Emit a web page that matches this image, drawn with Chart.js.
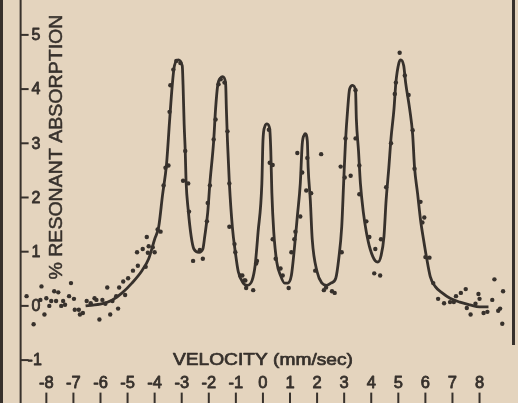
<!DOCTYPE html>
<html>
<head>
<meta charset="utf-8">
<script src="https://cdn.jsdelivr.net/npm/chart.js@4"></script>
<style>
html,body{margin:0;padding:0;background:#e4d4be;}
#wrap{width:518px;height:403px;position:relative;}
</style>
</head>
<body>
<div id="wrap"><canvas id="c"></canvas></div>
<script>
// ---- Data ----
const velocityTicks = [-8,-7,-6,-5,-4,-3,-2,-1,0,1,2,3,4,5,6,7,8];
const absorptionTicks = [5,4,3,2,1,0,-1];
const xTitle = "VELOCITY (mm/sec)";
const yTitle = "% RESONANT ABSORPTION";

// fitted curve (velocity mm/s, % absorption)
const curveV = [-6.55,-5.93,-5.56,-5.20,-4.84,-4.47,-4.22,-4.00,-3.85,-3.71,-3.56,-3.45,-3.35,-3.27,-3.13,-2.98,-2.95,-2.91,-2.87,-2.84,-2.76,-2.65,-2.55,-2.36,-2.22,-2.15,-2.04,-1.96,-1.82,-1.75,-1.67,-1.56,-1.49,-1.38,-1.35,-1.31,-1.24,-1.13,-1.02,-0.91,-0.73,-0.58,-0.40,-0.29,-0.18,-0.04,0.00,0.07,0.15,0.25,0.29,0.33,0.40,0.51,0.65,0.80,0.91,1.05,1.16,1.27,1.38,1.45,1.53,1.56,1.64,1.67,1.75,1.82,2.00,2.18,2.36,2.51,2.69,2.80,2.91,2.98,3.05,3.13,3.20,3.31,3.42,3.45,3.53,3.60,3.71,3.82,3.96,4.15,4.25,4.36,4.47,4.55,4.65,4.73,4.84,4.91,5.02,5.09,5.20,5.27,5.42,5.53,5.60,5.71,5.82,5.93,6.04,6.18,6.36,6.62,6.91,7.27,7.64,8.00,8.33];
const curveA = [0.00,0.04,0.11,0.24,0.42,0.65,0.87,1.23,1.46,2.04,2.62,3.40,4.07,4.43,4.54,4.43,4.07,3.35,2.86,2.31,1.77,1.28,1.05,0.99,1.05,1.28,1.72,2.26,3.04,3.63,4.07,4.21,4.23,4.12,3.63,3.04,2.26,1.46,0.99,0.63,0.42,0.38,0.47,0.74,1.36,2.26,3.04,3.31,3.36,3.27,2.86,2.08,1.36,0.81,0.56,0.42,0.42,0.56,1.05,1.65,2.26,2.98,3.16,3.18,3.04,2.55,1.95,1.23,0.63,0.42,0.38,0.42,0.51,0.87,1.46,2.26,3.04,3.63,4.00,4.07,3.98,3.45,2.86,2.26,1.72,1.36,1.05,0.83,0.81,0.92,1.28,1.95,2.55,3.09,3.63,4.12,4.48,4.54,4.43,4.12,3.63,3.16,2.55,2.08,1.59,1.23,0.90,0.54,0.36,0.24,0.14,0.07,0.02,-0.02,-0.02];

// measured points
const dotV = [-8.73,-8.18,-8.22,-8.00,-8.07,-8.47,-7.82,-7.89,-7.71,-7.56,-7.64,-7.38,-7.45,-7.31,-7.09,-7.16,-6.98,-6.95,-6.80,-6.76,-6.65,-6.51,-6.36,-6.22,-6.15,-5.93,-6.04,-5.82,-5.75,-5.56,-5.64,-5.35,-5.42,-5.31,-5.09,-5.16,-4.98,-4.80,-4.62,-4.65,-4.44,-4.33,-4.25,-4.22,-4.29,-4.07,-4.00,-3.89,-3.78,
 -3.67,-3.60,-3.49,-3.45,-3.42,-3.31,-3.20,-3.05,-2.87,-2.95,-2.76,-2.73,-2.58,-2.22,-2.33,-2.07,-2.04,-1.96,-1.82,-1.75,-1.64,-1.56,-1.42,-1.31,-1.24,-1.24,-1.05,-1.02,-0.84,-0.69,-0.62,
 -0.76,-0.65,-0.36,-0.25,-0.22,0.25,0.36,0.22,0.36,0.47,0.65,0.73,0.95,1.05,1.16,1.20,1.38,1.27,1.45,1.64,1.60,1.78,2.15,1.93,2.25,2.33,2.55,
 2.65,2.91,2.87,3.02,3.24,3.05,3.42,3.42,3.56,3.56,3.82,3.93,4.15,4.11,4.33,4.36,4.55,4.73,4.87,4.91,5.05,5.24,5.38,5.53,5.60,5.82,5.96,5.89,6.00,
 6.15,6.29,6.47,6.69,6.91,7.05,7.13,7.31,7.49,7.53,7.67,7.85,7.96,8.00,8.15,8.29,8.47,8.55,8.69,8.76,8.87,8.84];
const dotA = [0.18,0.36,0.11,0.14,-0.16,-0.34,0.09,0.00,0.27,0.25,0.09,0.09,0.00,0.02,0.42,0.18,0.13,-0.07,-0.07,-0.16,-0.13,0.09,0.05,0.14,0.11,0.11,-0.25,0.04,0.34,0.09,-0.16,-0.05,0.18,0.34,0.20,0.45,0.51,0.65,0.74,0.99,1.05,0.72,0.98,1.10,1.27,1.08,0.99,1.41,1.37,
 2.22,2.55,2.59,3.58,4.07,4.36,4.52,4.48,2.86,2.31,2.26,1.74,0.83,0.87,1.03,1.56,1.90,2.22,3.07,3.44,4.09,4.18,4.12,3.22,2.26,1.46,1.14,0.99,0.56,0.47,0.33,
 0.56,0.47,0.29,0.78,0.83,2.64,2.60,3.25,1.23,0.87,0.69,0.56,0.33,0.99,1.23,1.37,1.65,2.82,2.46,2.73,2.13,2.08,2.80,0.65,0.29,0.34,0.27,
 0.24,0.99,2.57,2.37,2.40,3.09,3.09,3.98,2.59,2.06,1.56,1.27,1.05,0.60,0.56,1.23,2.19,3.00,3.91,4.12,4.67,4.25,3.89,3.24,2.53,1.92,1.63,1.54,0.90,
 0.89,0.42,0.13,0.05,0.07,0.07,0.18,0.24,0.31,-0.04,-0.16,0.04,0.22,0.13,-0.13,-0.11,0.11,0.49,-0.09,-0.05,0.27,-0.33];

// ---- Layout / style constants ----
const INK = '#37312c';
const PAPER = '#e4d4be';
const X_MIN = -9.564, X_MAX = 9.273, Y_MIN = -1.718, Y_MAX = 5.570;
const AXIS_V = -8.95;          // velocity where the vertical axis line stands
const XLABEL_A = -1.43;        // absorption level of the velocity tick labels
const XTICK_A = -1.60;         // absorption level where velocity tick marks start
const XTITLE_A = -1.01;
const YTITLE_V = -7.6, YTITLE_A = 2.93;

const curvePts = curveV.map((v,i)=>({x:v,y:curveA[i]}));
const dotPts = dotV.map((v,i)=>({x:v,y:dotA[i]}));

function inkText(ctx, text, x, y, weight){
  ctx.fillText(text,x,y);
  ctx.save(); ctx.lineWidth=weight; ctx.lineJoin='round'; ctx.strokeText(text,x,y); ctx.restore();
}
function drawFitted(ctx, text, x, y, width, font, rot, weight){
  ctx.save();
  ctx.font = font;
  const w = ctx.measureText(text).width;
  ctx.translate(x,y);
  if(rot) ctx.rotate(rot);
  ctx.scale(width/w,1);
  ctx.textAlign='center';
  ctx.textBaseline='middle';
  inkText(ctx,text,0,0,weight);
  ctx.restore();
}

const decor = {
  id:'decor',
  beforeDraw(chart){
    const c=chart.ctx;
    c.save(); c.fillStyle=PAPER; c.fillRect(0,0,chart.width,chart.height); c.restore();
  },
  afterDraw(chart){
    const c=chart.ctx, xs=chart.scales.x, ys=chart.scales.y;
    c.save();
    c.strokeStyle=INK; c.fillStyle=INK;
    // scan edge at far left
    c.fillRect(0,0,3,chart.height);
    // right frame line
    c.fillRect(512,0,3,345);
    // vertical axis
    const ax = xs.getPixelForValue(AXIS_V);
    c.lineWidth=2;
    c.beginPath(); c.moveTo(ax,0); c.lineTo(ax,chart.height); c.stroke();
    // y ticks + labels
    c.font='16px "Liberation Sans"';
    c.textAlign='left'; c.textBaseline='middle';
    absorptionTicks.forEach(t=>{
      const y=ys.getPixelForValue(t);
      c.lineWidth=2;
      c.beginPath(); c.moveTo(ax,y); c.lineTo(ax+8,y); c.stroke();
      inkText(c, String(t), t<0? ax+7 : ax+11, y+1, 0.8);
    });
    // x tick labels + marks
    const ly=ys.getPixelForValue(XLABEL_A), ty=ys.getPixelForValue(XTICK_A);
    c.font='16.5px "Liberation Sans"';
    c.textAlign='center';
    velocityTicks.forEach(t=>{
      const x=xs.getPixelForValue(t);
      inkText(c, String(t), x, ly, 0.8);
      c.lineWidth=2;
      c.beginPath(); c.moveTo(x,ty); c.lineTo(x,chart.height); c.stroke();
    });
    // titles
    drawFitted(c, xTitle, xs.getPixelForValue(0), ys.getPixelForValue(XTITLE_A), 180, '16.5px "Liberation Sans"', 0, 0.7);
    drawFitted(c, yTitle, xs.getPixelForValue(YTITLE_V), ys.getPixelForValue(YTITLE_A), 265, '19px "Liberation Sans"', -Math.PI/2, 0.5);
    c.restore();
  }
};

new Chart(document.getElementById('c'), {
  type:'scatter',
  data:{datasets:[
    {label:'fit', data:curvePts, showLine:true, borderColor:INK, borderWidth:2.8, pointRadius:0, cubicInterpolationMode:'monotone', fill:false},
    {label:'data', data:dotPts, showLine:false, pointRadius:2.2, pointBackgroundColor:INK, pointBorderWidth:0, borderColor:INK}
  ]},
  options:{
    responsive:true, maintainAspectRatio:false, animation:false,
    layout:{padding:0},
    plugins:{legend:{display:false}, tooltip:{enabled:false}},
    scales:{
      x:{type:'linear', min:X_MIN, max:X_MAX, display:false},
      y:{type:'linear', min:Y_MIN, max:Y_MAX, display:false}
    }
  },
  plugins:[decor]
});
</script>
</body>
</html>
